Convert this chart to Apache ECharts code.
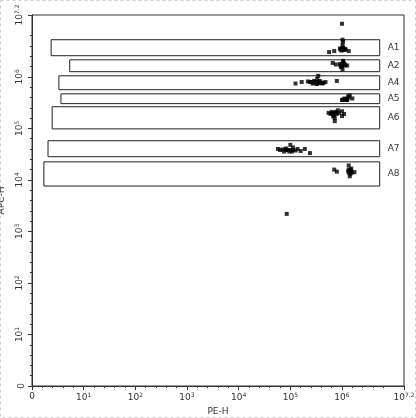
<!DOCTYPE html>
<html><head><meta charset="utf-8">
<script src="https://cdn.jsdelivr.net/npm/echarts@6/dist/echarts.min.js"></script>
<style>html,body{margin:0;padding:0;background:#fff}#c{width:416px;height:418px}</style>
</head><body><div id="c"></div>
<script>
// decade units: value 10^d plotted at d, 0 plotted at 0
var xTicks = [0,1,2,3,4,5,6,7.2];
var yTicks = [0,1,2,3,4,5,6,7.2];
var gateNames = ['A1','A2','A4','A5','A6','A7','A8'];
var gateX0 = [0.37,0.73,0.52,0.56,0.39,0.31,0.23];
var gateX1 = [6.73,6.73,6.73,6.73,6.73,6.73,6.73];
var gateY0 = [6.41,6.10,5.75,5.48,4.99,4.45,3.88];
var gateY1 = [6.72,6.33,6.02,5.67,5.42,4.76,4.35];
var ptsA1 = [[6.0,6.54],[6.03,6.55],[5.97,6.53],[6.06,6.54],[6.0,6.52],[6.04,6.52],[5.96,6.55],[6.02,6.57],[6.07,6.53],[5.99,6.51],[6.01,6.56],[6.02,6.68],[6.01,6.62],[5.85,6.5],[5.75,6.48],[6.13,6.5],[6.01,6.72],[6.0,7.03]];
var ptsA2 = [[6.0,6.23],[6.03,6.24],[5.97,6.22],[6.05,6.25],[6.0,6.2],[6.03,6.27],[5.96,6.25],[6.02,6.29],[6.06,6.22],[5.98,6.19],[6.01,6.14],[5.88,6.24],[5.82,6.27],[6.1,6.22],[6.02,6.31],[6.0,6.25]];
var ptsA4 = [[5.5,5.9],[5.46,5.89],[5.55,5.9],[5.6,5.89],[5.42,5.9],[5.64,5.88],[5.38,5.9],[5.5,5.87],[5.57,5.92],[5.46,5.92],[5.68,5.9],[5.34,5.91],[5.43,5.87],[5.62,5.87],[5.52,5.96],[5.54,6.02],[5.22,5.9],[5.1,5.87],[5.9,5.92],[5.52,5.86],[5.58,5.88]];
var ptsA5 = [[6.06,5.56],[6.1,5.57],[6.02,5.56],[6.13,5.6],[6.08,5.55],[6.12,5.62],[6.0,5.55],[6.15,5.64],[6.05,5.58],[6.2,5.58],[6.1,5.55]];
var ptsA6 = [[5.82,5.29],[5.86,5.3],[5.78,5.28],[5.9,5.28],[5.84,5.26],[5.8,5.32],[5.88,5.32],[5.94,5.3],[5.83,5.23],[5.86,5.2],[5.74,5.3],[6.0,5.33],[6.04,5.28],[5.86,5.14],[6.0,5.24],[5.92,5.35],[5.84,5.29]];
var ptsA7 = [[4.95,4.58],[5.0,4.58],[4.9,4.59],[5.05,4.58],[4.85,4.59],[5.1,4.57],[4.8,4.58],[4.98,4.55],[4.92,4.61],[5.03,4.55],[4.88,4.55],[5.14,4.6],[4.76,4.6],[5.05,4.63],[5.0,4.68],[5.2,4.56],[5.28,4.6],[5.38,4.52],[4.93,4.58]];
var ptsA8 = [[6.15,4.16],[6.17,4.19],[6.13,4.14],[6.19,4.14],[6.14,4.2],[6.16,4.11],[6.12,4.18],[6.18,4.22],[6.15,4.07],[6.24,4.15],[5.85,4.2],[5.9,4.16],[6.13,4.28],[6.16,4.16]];
var ptsOther = [[4.93,3.34]];

var gates = gateNames.map(function(n,i){return [gateX0[i],gateY0[i],gateX1[i],gateY1[i],n];});
var pts = [].concat(ptsA1,ptsA2,ptsA4,ptsA5,ptsA6,ptsA7,ptsA8,ptsOther);
function fmt(v){ if(v===0) return '0'; return '10{s|'+(Math.round(v*10)/10)+'}'; }
var axisCommon = {
  type:'value', min:0, max:7.2, interval:1,
  axisLine:{show:true,onZero:false,lineStyle:{color:'#333'}},
  splitLine:{show:false},
  minorTick:{show:true,splitNumber:5,length:2,lineStyle:{color:'#333'}},
  nameTextStyle:{color:'#333',fontSize:9,fontFamily:'DejaVu Sans'}
};
var chart = echarts.init(document.getElementById('c'));
chart.setOption({
  animation:false,
  graphic:[{type:'rect',shape:{x:0.5,y:0.5,width:415,height:417},style:{fill:null,stroke:'#ccc',lineDash:[3,3]}}],
  grid:{left:32,right:12,top:15,bottom:32,show:true,borderColor:'#333',borderWidth:1,containLabel:false,outerBoundsMode:'none'},
  xAxis:Object.assign({},axisCommon,{name:'PE-H',nameLocation:'middle',nameGap:19,
    axisTick:{show:true,length:4,customValues:xTicks,lineStyle:{color:'#333'}},
    axisLabel:{customValues:xTicks,formatter:fmt,color:'#333',fontSize:9,fontFamily:'DejaVu Sans',margin:6,rich:{s:{fontSize:6,verticalAlign:'top',padding:[0,0,6,0]}}}}),
  yAxis:Object.assign({},axisCommon,{name:'APC-H',nameLocation:'middle',nameGap:22,
    axisTick:{show:true,length:4,customValues:yTicks,lineStyle:{color:'#333'}},
    axisLabel:{customValues:yTicks,formatter:fmt,rotate:90,color:'#333',fontSize:9,fontFamily:'DejaVu Sans',margin:6,rich:{s:{fontSize:6,padding:[0,0,6,0]}}}}),
  series:[
    {type:'custom',data:gates,renderItem:function(p,api){
      var a=api.coord([api.value(0),api.value(1)]), b=api.coord([api.value(2),api.value(3)]);
      return {type:'group',children:[
        {type:'rect',shape:{x:a[0],y:b[1],width:b[0]-a[0],height:a[1]-b[1]},style:{fill:null,stroke:'#222',lineWidth:1}},
        {type:'text',x:b[0]+8,y:(a[1]+b[1])/2,style:{text:api.value(4),fill:'#333',fontSize:9,fontFamily:'DejaVu Sans',verticalAlign:'middle'}}
      ]};
    },encode:{x:[0,2],y:[1,3]},z:1},
    {type:'scatter',data:pts,symbol:'rect',symbolSize:4,itemStyle:{color:'#000'},z:2}
  ]
});
</script></body></html>
